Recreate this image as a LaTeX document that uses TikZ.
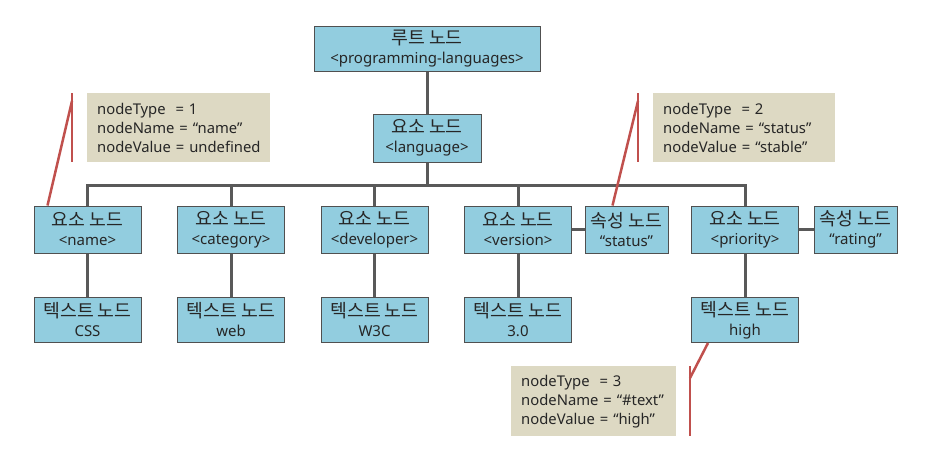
\documentclass[tikz,border=0pt]{standalone}
\usepackage{fontspec}
\setmainfont{Noto Sans}
\newfontfamily\kr[Scale=1.22]{Noto Sans CJK KR}
\definecolor{boxfill}{HTML}{92CDDF}
\definecolor{boxline}{HTML}{505050}
\definecolor{conn}{HTML}{595959}
\definecolor{notefill}{HTML}{DDD9C3}
\definecolor{redline}{HTML}{C0504D}
\newcommand{\np}{\hspace*{10pt}}
\begin{document}
\begin{tikzpicture}[x=1pt,y=-1pt,
  nbox/.style={draw=boxline,line width=1pt,fill=boxfill,align=center,inner sep=0pt,
    font=\fontsize{15}{19}\selectfont,text=black!85},
  note/.style={fill=notefill,align=left,inner sep=0pt,anchor=north west,
    font=\fontsize{14.8}{19}\selectfont,text=black!85},
  conline/.style={draw=conn,line width=3pt},
  callout/.style={draw=redline,line width=2.5pt}]
\useasboundingbox (0,0) rectangle (928,466);
% nodes
\node[nbox,minimum width=226pt,minimum height=45pt] (root) at (427,48.5) {{\kr 루트 노드}\\<programming-languages>};
\node[nbox,minimum width=108pt,minimum height=48pt] (lang) at (427,138) {{\kr 요소 노드}\\<language>};
\tikzset{l2/.style={nbox,minimum width=107pt,minimum height=47pt},
         at2/.style={nbox,minimum width=83pt,minimum height=47pt},
         l3/.style={nbox,minimum width=107pt,minimum height=45pt}}
\node[l2] (name) at (87.5,229.5) {{\kr 요소 노드}\\<name>};
\node[l2] (cat) at (231,229.5) {{\kr 요소 노드}\\<category>};
\node[l2] (dev) at (374.5,229.5) {{\kr 요소 노드}\\<developer>};
\node[l2] (ver) at (518,229.5) {{\kr 요소 노드}\\<version>};
\node[at2] (status) at (626.5,229.5) {{\kr 속성 노드}\\“status”};
\node[l2] (prio) at (745,229.5) {{\kr 요소 노드}\\<priority>};
\node[at2] (rating) at (855.5,229.5) {{\kr 속성 노드}\\“rating”};
\node[l3] (css) at (87.5,320) {{\kr 텍스트 노드}\\CSS};
\node[l3] (web) at (231,320) {{\kr 텍스트 노드}\\web};
\node[l3] (w3c) at (374.5,320) {{\kr 텍스트 노드}\\W3C};
\node[l3] (v30) at (518,320) {{\kr 텍스트 노드}\\3.0};
\node[l3] (high) at (745,320) {{\kr 텍스트 노드}\\high};
% connectors
\coordinate (bus) at (0,185);
\begin{scope}[on background layer/.try]
\draw[conline] (root.south) -- (lang.north);
\draw[conline] (lang.south) -- (lang.south |- bus);
\draw[conline,line cap=rect] (name.north |- bus) -- (prio.north |- bus);
\foreach \n in {name,cat,dev,ver,prio} \draw[conline] (\n.north |- bus) -- (\n.north);
\draw[conline] (name.south) -- (css.north);
\draw[conline] (cat.south) -- (web.north);
\draw[conline] (dev.south) -- (w3c.north);
\draw[conline] (ver.south) -- (v30.north);
\draw[conline] (prio.south) -- (high.north);
\draw[conline] (ver.east) -- (status.west);
\draw[conline] (prio.east) -- (rating.west);
\end{scope}
% notes
\node[note,minimum height=69pt,text width=183pt] (n1) at (87,93) {\np nodeType\ \ = 1\\\np nodeName = “name”\\\np nodeValue = undefined};
\node[note,minimum height=69pt,text width=182pt] (n2) at (653,93) {\np nodeType\ \ = 2\\\np nodeName = “status”\\\np nodeValue = “stable”};
\node[note,minimum height=70pt,text width=165pt] (n3) at (511,366) {\np nodeType\ \ = 3\\\np nodeName = “\#text”\\\np nodeValue = “high”};
% callout lines
\coordinate (c1a) at (72,93); \coordinate (c1b) at (72,162); \coordinate (c1k) at (72,101);
\coordinate (c2a) at (638,93); \coordinate (c2b) at (638,162); \coordinate (c2k) at (638,101);
\coordinate (c3a) at (690,366); \coordinate (c3b) at (690,436); \coordinate (c3k) at (690,378);
\draw[callout] (c1a) -- (c1b);
\draw[callout] (c1k) -- ([xshift=-40pt]name.north);
\draw[callout] (c2a) -- (c2b);
\draw[callout] (c2k) -- ([xshift=-14pt]status.north);
\draw[callout] (c3a) -- (c3b);
\draw[callout] (c3k) -- ([xshift=-37pt]high.south);
\end{tikzpicture}
\end{document}
